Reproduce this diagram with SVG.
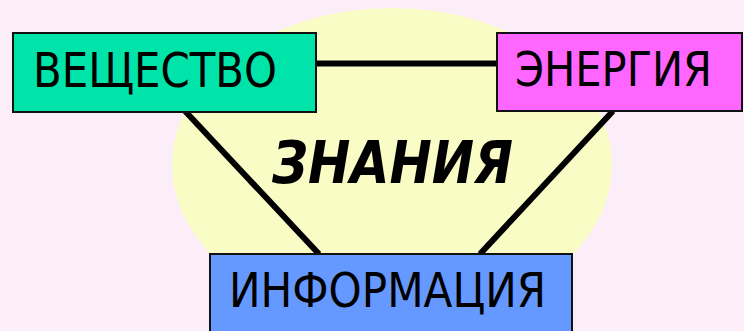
<svg xmlns="http://www.w3.org/2000/svg" width="744" height="331" viewBox="0 0 744 331">
<style>
.box{stroke:#111;stroke-width:2}
.lbl{font-family:"DejaVu Sans Condensed","DejaVu Sans",sans-serif;font-size:48px;fill:#000}
.conn{stroke:#000;stroke-width:6;fill:none}
</style>
<rect x="0" y="0" width="744" height="331" fill="#FCEEF9"/>
<ellipse cx="392" cy="165" rx="220" ry="157" fill="#FAFCC6"/>
<g id="connectors">
<line class="conn" x1="316" y1="63.5" x2="497" y2="63.5"/>
<line class="conn" x1="185" y1="111" x2="319" y2="254"/>
<line class="conn" x1="613" y1="111" x2="480" y2="254"/>
</g>
<text x="272" y="183" font-family="DejaVu Sans Condensed,DejaVu Sans,sans-serif" font-size="59" font-weight="bold" font-style="italic" textLength="241" lengthAdjust="spacingAndGlyphs">ЗНАНИЯ</text>
<g id="node-veshchestvo">
<rect class="box" x="13" y="33" width="303" height="79" fill="#00E3A9"/>
<text class="lbl" x="33" y="87" textLength="244" lengthAdjust="spacingAndGlyphs">ВЕЩЕСТВО</text>
</g>
<g id="node-energiya">
<rect class="box" x="497" y="33" width="245" height="78" fill="#FF66FF"/>
<text class="lbl" x="515" y="86" textLength="197" lengthAdjust="spacingAndGlyphs">ЭНЕРГИЯ</text>
</g>
<g id="node-informatsiya">
<rect class="box" x="210" y="254" width="362" height="80" fill="#6699FF"/>
<text class="lbl" x="229" y="307" textLength="317" lengthAdjust="spacingAndGlyphs">ИНФОРМАЦИЯ</text>
</g>
</svg>
